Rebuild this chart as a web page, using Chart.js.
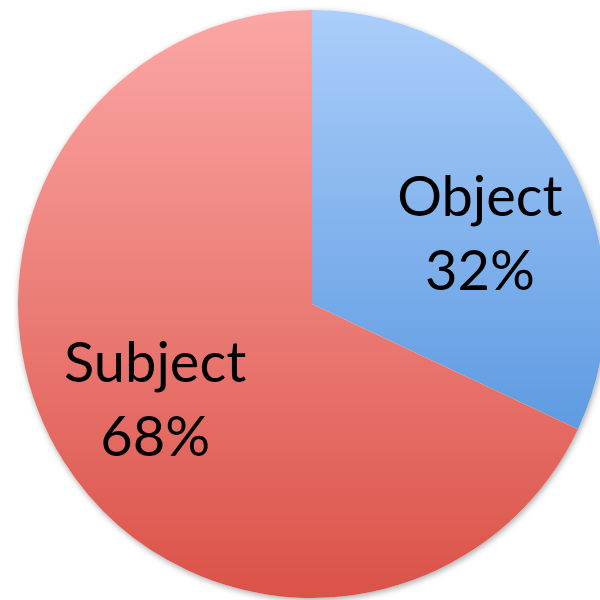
<!DOCTYPE html>
<html>
<head>
<meta charset="utf-8">
<script src="https://cdn.jsdelivr.net/npm/chart.js@4/dist/chart.umd.min.js"></script>
<style>
  html, body { margin: 0; padding: 0; background: #fff; overflow: hidden; }
  #wrap { position: relative; width: 600px; height: 600px; overflow: hidden; }
  #pie { position: absolute; left: 0; top: 0; }
</style>
</head>
<body>
<div id="wrap"><canvas id="pie" width="624" height="608"></canvas></div>
<script>
const categories = ["Object", "Subject"];
const shares = [32, 68];

// gradient stops per slice: top colour, bottom colour
const topColors = ["#abcefb", "#fba7a5"];
const bottomColors = ["#3f86d6", "#db5248"];

// nudges for the label blocks, relative to the slice middle
const labelShift = [[14, 29], [-3, -1]];

const PIE_RADIUS = 294;

function sliceGradient(context) {
    const chart = context.chart;
    const area = chart.chartArea;
    if (!area) return topColors[context.dataIndex];
    const cy = (area.top + area.bottom) / 2;
    const g = chart.ctx.createLinearGradient(0, cy - PIE_RADIUS, 0, cy + PIE_RADIUS);
    g.addColorStop(0, topColors[context.dataIndex]);
    g.addColorStop(1, bottomColors[context.dataIndex]);
    return g;
}

// soft drop shadow under the whole pie
const pieShadow = {
    id: "pieShadow",
    beforeDatasetsDraw(chart) {
        const arc = chart.getDatasetMeta(0).data[0];
        if (!arc) return;
        const ctx = chart.ctx;
        ctx.save();
        ctx.shadowColor = "rgba(0,0,0,0.35)";
        ctx.shadowBlur = 6;
        ctx.shadowOffsetX = 1;
        ctx.shadowOffsetY = 2;
        ctx.fillStyle = "#ffffff";
        ctx.beginPath();
        ctx.arc(arc.x, arc.y, arc.outerRadius, 0, Math.PI * 2);
        ctx.fill();
        ctx.restore();
    }
};

// category name and percentage inside each slice
const sliceLabels = {
    id: "sliceLabels",
    afterDatasetsDraw(chart) {
        const ctx = chart.ctx;
        const meta = chart.getDatasetMeta(0);
        ctx.save();
        ctx.fillStyle = "#000";
        ctx.font = "56px Lato, 'Open Sans', sans-serif";
        ctx.textAlign = "center";
        ctx.textBaseline = "alphabetic";
        meta.data.forEach((arc, i) => {
            const mid = (arc.startAngle + arc.endAngle) / 2;
            const r = arc.outerRadius * 0.62;
            const x = arc.x + Math.cos(mid) * r + labelShift[i][0];
            const y = arc.y + Math.sin(mid) * r + labelShift[i][1];
            ctx.fillText(categories[i], x, y - 19);
            ctx.fillText(shares[i] + "%", x, y + 55);
        });
        ctx.restore();
    }
};

new Chart(document.getElementById("pie"), {
    type: "pie",
    data: {
        labels: categories,
        datasets: [{
            data: shares,
            backgroundColor: sliceGradient,
            borderWidth: 0
        }]
    },
    options: {
        responsive: false,
        animation: false,
        radius: PIE_RADIUS,
        layout: { padding: 0 },
        plugins: {
            legend: { display: false },
            tooltip: { enabled: false }
        }
    },
    plugins: [pieShadow, sliceLabels]
});
</script>
</body>
</html>
